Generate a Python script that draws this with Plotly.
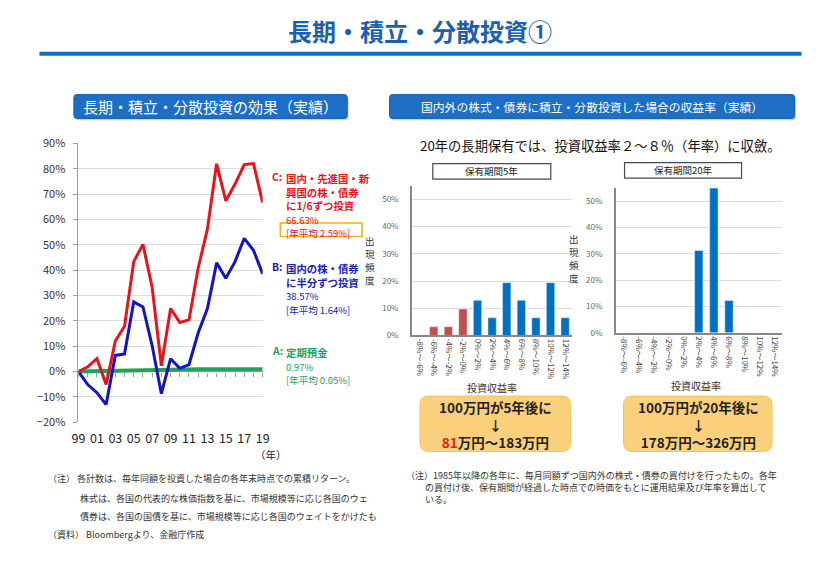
import plotly.graph_objects as go

W, H = 840, 582
FONT = "Noto Sans CJK JP"


def X(p):
    return p / W


def Y(p):
    return 1 - p / H


# ---------------- data ----------------
years = list(range(1999, 2020))
year_tick_vals = list(range(1999, 2020, 2))
year_tick_labels = ["99", "01", "03", "05", "07", "09", "11", "13", "15", "17", "19"]

series_c = [0, 1.9, 5.1, -5.1, 12.1, 17.9, 43.4, 50.2, 33.2, 2.3, 24.9,
            19.4, 20.4, 40.9, 56.2, 82.0, 67.4, 74.0, 81.7, 82.1, 66.63]
series_b = [0, -5.1, -8.3, -13.0, 6.4, 7.0, 27.5, 25.5, 10.2, -8.7, 5.1,
            1.3, 2.8, 15.3, 24.9, 42.9, 36.8, 43.4, 52.6, 47.9, 38.57]
series_a = [0, 0.1, 0.2, 0.3, 0.35, 0.4, 0.45, 0.5, 0.6, 0.7, 0.8,
            0.85, 0.9, 0.92, 0.93, 0.94, 0.95, 0.96, 0.96, 0.97, 0.97]

hist_bins = ["-8%～-6%", "-6%～-4%", "-4%～-2%", "-2%～0%", "0%～2%", "2%～4%",
             "4%～6%", "6%～8%", "8%～10%", "10%～12%", "12%～14%"]
hist_5y = [0, 3.2, 3.2, 9.7, 12.9, 6.5, 19.4, 12.9, 6.5, 19.4, 6.5]
hist_20y = [0, 0, 0, 0, 0, 31.3, 55.2, 12.3, 0, 0, 0]
negative_bins = 4  # first four bins are losses

RED, BLUE, GREEN = "#e8141c", "#1414c0", "#1fa35a"
BAR_RED, BAR_BLUE = "#c0504d", "#0070c0"

fig = go.Figure()

# ---------------- line chart ----------------
fig.add_trace(go.Scatter(x=years[:1], y=[0], xaxis="x4", yaxis="y", mode="markers",
                         marker=dict(opacity=0), hoverinfo="skip"))
fig.add_trace(go.Scatter(x=years, y=series_a, mode="lines", line=dict(color=GREEN, width=4),
                         xaxis="x", yaxis="y"))
fig.add_trace(go.Scatter(x=years, y=series_b, mode="lines", line=dict(color=BLUE, width=3),
                         xaxis="x", yaxis="y"))
fig.add_trace(go.Scatter(x=years, y=series_c, mode="lines", line=dict(color=RED, width=3),
                         xaxis="x", yaxis="y"))

# ---------------- histograms ----------------
fig.add_trace(go.Bar(x=hist_bins, y=hist_5y, width=0.57, xaxis="x2", yaxis="y2",
                     marker=dict(color=[BAR_RED if i < negative_bins else BAR_BLUE
                                        for i in range(len(hist_bins))])))
fig.add_trace(go.Bar(x=hist_bins, y=hist_20y, width=0.55, xaxis="x3", yaxis="y3",
                     marker=dict(color=BAR_BLUE)))

ldom_y = [Y(425), Y(138.3)]
yr = [-20, 90]
zero_pos = ldom_y[0] + (0 - yr[0]) / (yr[1] - yr[0]) * (ldom_y[1] - ldom_y[0])

GRID = "#dcdcdc"
AX = "#a0a0a0"

layout = dict(
    width=W, height=H, margin=dict(l=0, r=0, t=0, b=0),
    paper_bgcolor="white", plot_bgcolor="white", showlegend=False,
    font=dict(family=FONT, color="#222"),
    xaxis=dict(domain=[X(72.7), X(260)], range=[1999, 2019], anchor="y",
               tickvals=year_tick_vals, ticktext=year_tick_labels, showgrid=False,
               zeroline=False, showline=False, ticks="", ticklabelstandoff=7,
               tickfont=dict(size=12.5, color="#222")),
    xaxis4=dict(overlaying="x", anchor="free", position=zero_pos, range=[1999, 2019],
                tickvals=years, ticks="outside", ticklen=4, tickcolor=AX,
                showticklabels=False, showline=False, showgrid=False, zeroline=False),
    yaxis=dict(domain=ldom_y, range=yr, anchor="x", dtick=10, ticksuffix="%",
               showgrid=True, gridcolor=GRID, zeroline=True, zerolinecolor=AX,
               zerolinewidth=1, showline=True, linecolor=AX, ticks="outside",
               ticklen=4, tickcolor=AX, ticklabelstandoff=6,
               tickfont=dict(size=11, color="#333")),
    xaxis2=dict(domain=[X(411.7), X(575)], anchor="y2", type="category",
                range=[-0.5, 10.5], tickangle=90, ticks="", showline=True,
                linecolor="#888", linewidth=1.5, showgrid=False,
                tickfont=dict(size=8, color="#444")),
    yaxis2=dict(domain=[Y(335.7), Y(181.7)], anchor="x2", range=[0, 55], dtick=10,
                ticksuffix="%", showgrid=True, gridcolor=GRID, zeroline=False,
                showline=True, linecolor="#888", linewidth=1.5, ticks="",
                ticklabelstandoff=10, tickfont=dict(size=8, color="#666")),
    xaxis3=dict(domain=[X(619), X(788)], anchor="y3", type="category",
                range=[-0.5, 10.5], tickangle=90, ticks="", showline=True,
                linecolor="#888", linewidth=1.5, showgrid=False,
                tickfont=dict(size=8, color="#444")),
    yaxis3=dict(domain=[Y(333), Y(184.3)], anchor="x3", range=[0, 55], dtick=10,
                ticksuffix="%", showgrid=True, gridcolor=GRID, zeroline=False,
                showline=True, linecolor="#888", linewidth=1.5, ticks="",
                ticklabelstandoff=10, tickfont=dict(size=8, color="#666")),
)
fig.update_layout(**layout)


# ---------------- decorations ----------------
def rrect(x0, y0, x1, y1, r):
    rx, ry = r / W, r / H
    a0, a1 = X(x0), X(x1)
    b0, b1 = Y(y1), Y(y0)  # bottom, top in paper
    return (f"M {a0+rx},{b0} L {a1-rx},{b0} Q {a1},{b0} {a1},{b0+ry} "
            f"L {a1},{b1-ry} Q {a1},{b1} {a1-rx},{b1} L {a0+rx},{b1} "
            f"Q {a0},{b1} {a0},{b1-ry} L {a0},{b0+ry} Q {a0},{b0} {a0+rx},{b0} Z")


shapes = []
# title rule
shapes.append(dict(type="line", xref="paper", yref="paper", x0=X(33), x1=X(808),
                   y0=Y(46), y1=Y(46), line=dict(color="#1a6cc0", width=4)))
# header boxes with shadow
for (x0, x1) in [(68, 346), (389, 801)]:
    shapes.append(dict(type="path", xref="paper", yref="paper",
                       path=rrect(x0 + 1.5, 90, x1 + 1.5, 114.5, 3),
                       fillcolor="rgba(0,0,0,0.18)", line=dict(width=0)))
    shapes.append(dict(type="path", xref="paper", yref="paper",
                       path=rrect(x0, 88, x1, 112.5, 3),
                       fillcolor="#1c6fc4", line=dict(color="#1a5fa8", width=1)))
# holding-period label boxes
for (x0, x1, y0, y1) in [(433, 553, 159, 175), (628, 747, 158, 174)]:
    shapes.append(dict(type="rect", xref="paper", yref="paper", x0=X(x0), x1=X(x1),
                       y0=Y(y1), y1=Y(y0), fillcolor="white",
                       line=dict(color="#404a55", width=1.2)))
# callouts
for (x0, x1) in [(420, 573), (627, 778)]:
    shapes.append(dict(type="path", xref="paper", yref="paper",
                       path=rrect(x0, 398, x1, 455, 9),
                       fillcolor="#fbd07c", line=dict(color="#f6c15e", width=1)))
# yellow frame around C's annual average
shapes.append(dict(type="rect", xref="paper", yref="paper", x0=X(278), x1=X(361),
                   y0=Y(234), y1=Y(220), line=dict(color="#f0b020", width=1.6)))
fig.update_layout(shapes=shapes)

anns = []


def ann(x, y, text, size, color="#222", xanchor="left", yanchor="middle", **kw):
    anns.append(dict(x=X(x), y=Y(y), xref="paper", yref="paper", text=text,
                     showarrow=False, xanchor=xanchor, yanchor=yanchor,
                     font=dict(size=size, color=color, family=FONT), **kw))


ann(420, 22, "<b>長期・積立・分散投資①</b>", 24, "#1a5fb0", "center")
ann(207, 100.5, "長期・積立・分散投資の効果（実績）", 15, "white", "center")
ann(595, 100.5, "国内外の株式・債券に積立・分散投資した場合の収益率（実績）", 11.8, "white", "center")

# line legend texts (one block per series; prefix letter separate)
HS = 10.4
SMALL = "<span style='font-size:9.5px'>{}</span>"


def legend_block(y_first, prefix, lines_bold, lines_plain, color):
    ann(267, y_first, f"<b>{prefix}</b>", HS, color)
    body = "<br>".join([f"<b>{t}</b>" for t in lines_bold] +
                       [SMALL.format(t) for t in lines_plain])
    lh = HS * 1.3
    ann(282, y_first - lh / 2 - 1, body, HS, color, yanchor="top", align="left")


legend_block(172.5, "C:", ["国内・先進国・新", "興国の株・債券", "に1/6ずつ投資"],
             ["66.63%", "[年平均 2.59%]"], RED)
legend_block(265, "B:", ["国内の株・債券", "に半分ずつ投資"],
             ["38.57%", "[年平均 1.64%]"], "#2020b0")
legend_block(351, "A:", ["定期預金"], ["0.97%", "[年平均 0.05%]"], GREEN)
ann(268, 458, "（年）", 10.5, "#222", "center")

# right panel texts
ann(603.5, 140, "20年の長期保有では、投資収益率２～８％（年率）に収斂。", 13.3, "#111", "center")
ann(493, 167, "保有期間5年", 9.5, "#222", "center")
ann(687.5, 166, "保有期間20年", 9.5, "#222", "center")
for cx, cy in [(369, 258.5), (577, 256.5)]:
    for i, ch in enumerate("出現頻度"):
        ann(cx, cy + (i - 1.5) * 13.5, ch, 9.5, "#333", "center")
ann(493, 389, "投資収益率", 10, "#333", "center")
ann(701, 387, "投資収益率", 10, "#333", "center")

# callout texts (one block each)
ann(497, 427.5,
    "<b>100万円が5年後に</b><br><b>↓</b><br>"
    "<b><span style='color:#e0201a'>81</span>万円～183万円</b>",
    13.5, "#222", "center", align="center")
ann(703, 427.5,
    "<b>100万円が20年後に</b><br><b>↓</b><br><b>178万円～326万円</b>",
    13.5, "#222", "center", align="center")

# notes
ann(40, 483, "（注） 各計数は、毎年同額を投資した場合の各年末時点での累積リターン。", 9, "#333")
ann(72, 503, "株式は、各国の代表的な株価指数を基に、市場規模等に応じ各国のウェ", 9, "#333")
ann(72, 522, "債券は、各国の国債を基に、市場規模等に応じ各国のウェイトをかけたも", 9, "#333")
ann(40, 540, "（資料） Bloombergより、金融庁作成", 9, "#333")
ann(404, 480, "（注）1985年以降の各年に、毎月同額ずつ国内外の株式・債券の買付けを行ったもの。各年", 9, "#333")
ann(423, 492, "の買付け後、保有期間が経過した時点での時価をもとに運用結果及び年率を算出して", 9, "#333")
ann(423, 504, "いる。", 9, "#333")

fig.update_layout(annotations=anns)

fig.write_html(
    "out.html",
    config={"displayModeBar": False},
    post_script=("document.documentElement.style.margin='0';"
                 "document.body.style.margin='0';document.body.style.padding='0';"
                 "document.body.style.overflow='hidden';"
                 "var d=document.getElementById('{plot_id}');"
                 "d.style.position='absolute';d.style.left='0px';d.style.top='0px';"),
)
